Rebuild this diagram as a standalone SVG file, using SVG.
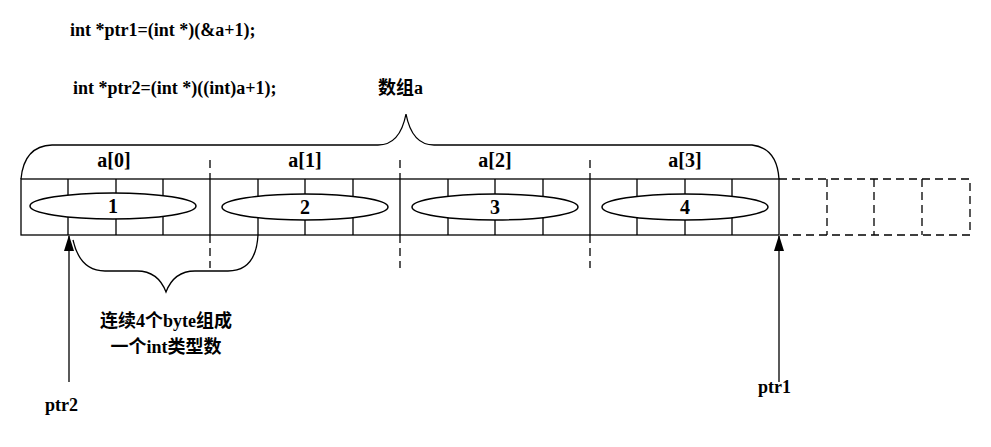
<svg xmlns="http://www.w3.org/2000/svg" width="991" height="447" viewBox="0 0 991 447">
<style>
text{font-family:"Liberation Serif","Noto Sans CJK SC",serif;font-weight:bold;font-size:18px;fill:#000}
.b{font-size:20px}
.s{stroke:#000;stroke-width:1.3;fill:none}
.d{stroke:#000;stroke-width:1.3;fill:none;stroke-dasharray:8,5}
.e{stroke:#000;stroke-width:1.5;fill:#fff}
</style>
<defs><marker id="ar" markerWidth="16" markerHeight="10" refX="15" refY="5" orient="auto" markerUnits="userSpaceOnUse" viewBox="0 0 16 10"><path d="M0,0 L16,5 L0,10 Z" fill="#000"/></marker></defs>
<rect width="991" height="447" fill="#fff"/>
<text x="70" y="36">int *ptr1=(int *)(&amp;a+1);</text>
<text x="73" y="94">int *ptr2=(int *)((int)a+1);</text>
<text x="378" y="94">数组a</text>
<g id="array">
<rect class="s" x="21" y="179" width="758" height="56"/>
<path class="s" d="M68,179V235M116,179V235M163,179V235M258,179V235M305,179V235M353,179V235M448,179V235M495,179V235M543,179V235M637,179V235M685,179V235M732,179V235"/>
<path class="s" d="M210,179V235M400,179V235M590,179V235"/>
<path class="d" d="M210,160V179M210,235V268M400,160V179M400,235V268M590,160V179M590,235V268"/>
<path class="d" d="M779,179H970V235H779M827,179V235M874,179V235M922,179V235"/>
</g>
<g id="e1"><ellipse class="e" cx="113" cy="206" rx="83" ry="13"/><text class="b" x="113" y="213" text-anchor="middle">1</text><text class="b" x="114" y="167" text-anchor="middle">a[0]</text></g>
<g id="e2"><ellipse class="e" cx="305" cy="207" rx="83" ry="13"/><text class="b" x="305" y="214" text-anchor="middle">2</text><text class="b" x="305" y="167" text-anchor="middle">a[1]</text></g>
<g id="e3"><ellipse class="e" cx="495" cy="207" rx="83" ry="13"/><text class="b" x="495" y="214" text-anchor="middle">3</text><text class="b" x="495" y="167" text-anchor="middle">a[2]</text></g>
<g id="e4"><ellipse class="e" cx="685" cy="207" rx="83" ry="13"/><text class="b" x="685" y="214" text-anchor="middle">4</text><text class="b" x="685" y="167" text-anchor="middle">a[3]</text></g>
<g id="connectors">
<path class="s" d="M21,179 Q24,146 52,145 H378 Q400,145 406,114 Q412,145 434,145 H752 Q777,148 779,179"/>
<path class="s" d="M73,240 Q80,271 105,271 H137 Q158,271 166,292 Q174,271 195,271 H228 Q256,271 258,235"/>
<line class="s" x1="69" y1="382" x2="69" y2="236" marker-end="url(#ar)"/>
<line class="s" x1="779" y1="382" x2="779" y2="236" marker-end="url(#ar)"/>
</g>
<text x="166" y="327" text-anchor="middle">连续4个byte组成</text>
<text x="166" y="353" text-anchor="middle">一个int类型数</text>
<text x="45" y="411">ptr2</text>
<text x="758" y="393">ptr1</text>
</svg>
